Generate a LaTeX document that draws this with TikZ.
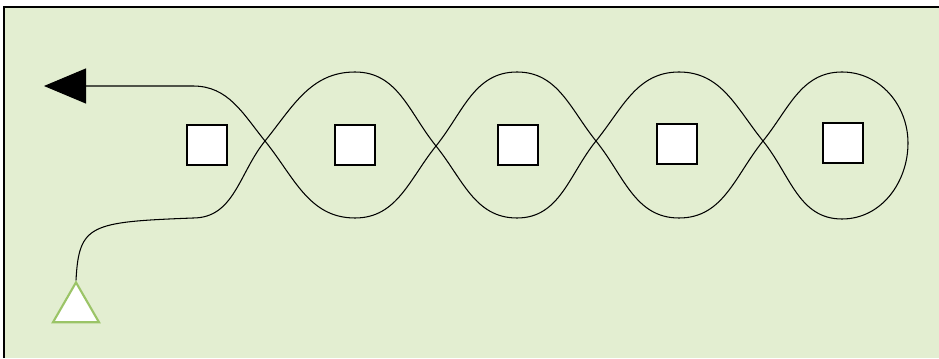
\documentclass[tikz,border=0pt]{standalone}
\usepackage{tikz}
\usetikzlibrary{shapes.geometric, arrows.meta}
\definecolor{fieldgreen}{RGB}{227,238,209}
\definecolor{startgreen}{RGB}{155,196,103}
\tikzstyle{obstacle} = [
  rectangle, draw=black, fill=white, line width=1.7pt,
  minimum size=34.2pt, inner sep=0pt
]
\tikzstyle{startmark} = [
  regular polygon, regular polygon sides=3,
  draw=startgreen, fill=white, line width=1.8pt,
  minimum size=45.4pt, inner sep=0pt
]
\tikzstyle{route} = [line width=0.9pt, -{Triangle[length=36pt, width=30pt]}]

\begin{document}
\begin{tikzpicture}[x=0.03cm, y=0.03cm]
  \useasboundingbox (0,0) rectangle (939,358);

  % Field
  \fill[fieldgreen] (4,0) rectangle (939,351);
  \draw[line width=2pt] (4,0) -- (4,351) -- (939,351);

  % Obstacles
  \node[obstacle] (o1) at (207,213) {};
  \node[obstacle] (o2) at (355,213) {};
  \node[obstacle] (o3) at (518,213) {};
  \node[obstacle] (o4) at (677,214) {};
  \node[obstacle] (o5) at (843,215) {};

  % Start and exit
  \node[startmark] (start) at (76,49) {};
  \coordinate (exit) at (44,272);

  % Route
  \draw[route] (start.corner 1) .. controls +(3,56) and +(-103,-4) .. (193,140)
    to[out=0,in=231] (265,217)
    to[out=51,in=180] (355,286)
    to[out=0,in=129] (436,212)
    to[out=-51,in=180] (517,140)
    to[out=0,in=231] (596,217)
    to[out=51,in=180] (679,286)
    to[out=0,in=129] (763,217)
    to[out=-51,in=180] (842,139)
    to[out=0,in=-90] (908,215)
    to[out=90,in=0] (842,286)
    to[out=180,in=51] (763,217)
    to[out=231,in=0] (679,140)
    to[out=180,in=-51] (596,217)
    to[out=129,in=0] (517,286)
    to[out=180,in=51] (436,212)
    to[out=231,in=0] (355,140)
    to[out=180,in=-51] (265,217)
    to[out=129,in=0] (193,272)
    -- (exit);

\end{tikzpicture}
\end{document}
